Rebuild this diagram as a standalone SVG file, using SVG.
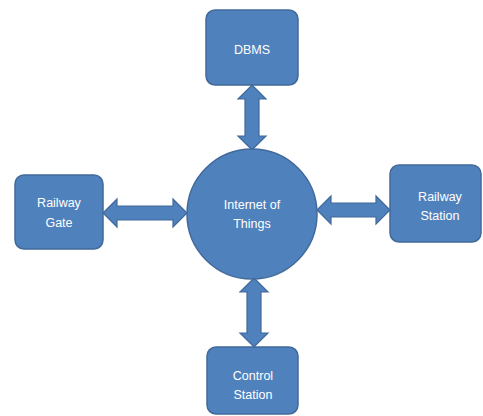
<svg xmlns="http://www.w3.org/2000/svg" width="483" height="416" viewBox="0 0 483 416">
<style>
.n{fill:#4F81BD;stroke:#41699A;stroke-width:1.5}
.a{fill:#4F81BD;stroke:#41699A;stroke-width:1.2;stroke-linejoin:miter}
.t{font-family:"Liberation Sans",Arial,sans-serif;font-size:12.5px;fill:#ffffff;text-anchor:middle}
</style>
<rect width="483" height="416" fill="#ffffff"/>
<g id="connectors">
<polygon class="a" points="252,85 266,99 259,99 259,136 266,136 252,150 238,136 245,136 245,99 238,99"/>
<polygon class="a" points="254,278 268,292 261,292 261,333 268,333 254,347 240,333 247,333 247,292 240,292"/>
<polygon class="a" points="103,213 117,199 117,206 173,206 173,199 187,213 173,227 173,220 117,220 117,227"/>
<polygon class="a" points="317,210 331,196 331,203 376,203 376,196 390,210 376,224 376,217 331,217 331,224"/>
</g>
<g id="iot">
<circle class="n" cx="252" cy="214" r="65"/>
<text class="t" x="252" y="209">Internet of</text>
<text class="t" x="252" y="228">Things</text>
</g>
<g id="dbms">
<rect class="n" x="206" y="10" width="92" height="75" rx="9"/>
<text class="t" x="252" y="54">DBMS</text>
</g>
<g id="gate">
<rect class="n" x="15" y="175" width="88" height="74" rx="9"/>
<text class="t" x="59" y="207">Railway</text>
<text class="t" x="59" y="227">Gate</text>
</g>
<g id="station">
<rect class="n" x="390" y="165" width="91" height="77" rx="9"/>
<text class="t" x="440" y="201">Railway</text>
<text class="t" x="440" y="220">Station</text>
</g>
<g id="control">
<rect class="n" x="207" y="347" width="91" height="67" rx="9"/>
<text class="t" x="253" y="380">Control</text>
<text class="t" x="253" y="399">Station</text>
</g>
</svg>
